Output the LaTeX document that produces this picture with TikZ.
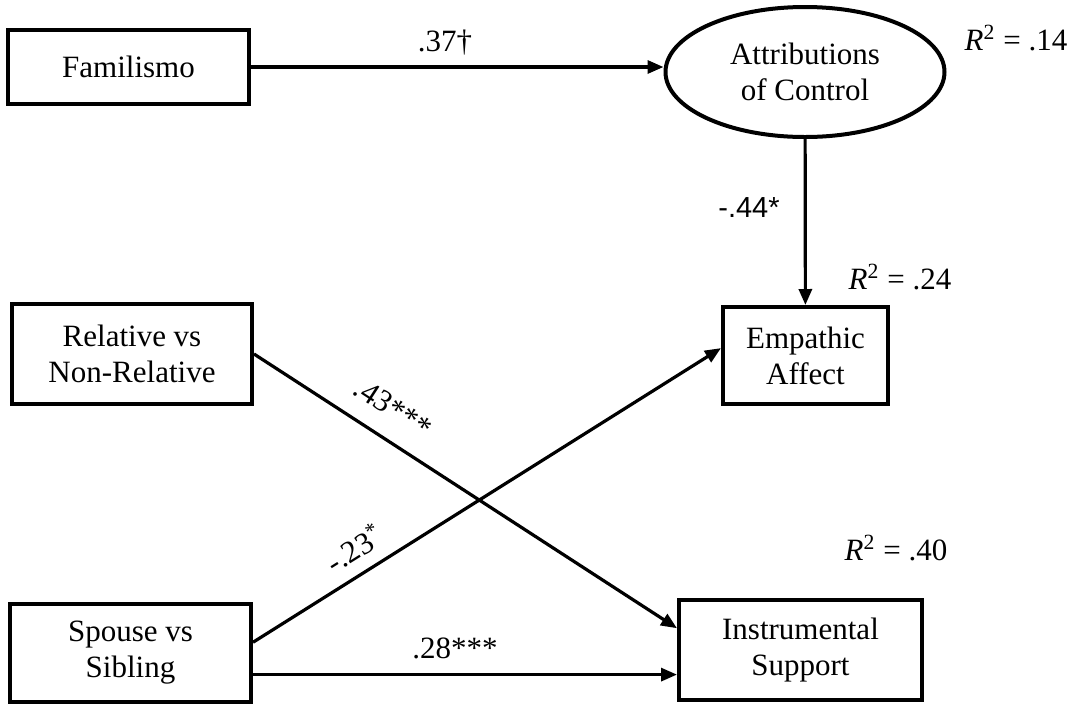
\documentclass[tikz,border=0pt]{standalone}
\usepackage{fontspec}
\setmainfont{Liberation Serif}
\newfontfamily\arialfont{Liberation Sans}
\usetikzlibrary{arrows.meta,positioning,shapes.geometric}

\begin{document}
\begin{tikzpicture}[
  x=0.5pt, y=-0.5pt,
  >={Triangle[length=8pt,width=6.5pt]},
  font=\fontsize{15.5}{18}\selectfont,
  var/.style={rectangle,draw,line width=2pt,inner sep=0pt,align=center},
  latent/.style={ellipse,draw,line width=2pt,inner sep=0pt,align=center,
    minimum width=139.5pt,minimum height=65pt},
  path/.style={->,line width=1.6pt},
  coef/.style={inner sep=1pt},
  rsq/.style={inner sep=1pt},
]
  \useasboundingbox (0,0) rectangle (1078,708);
  % observed and latent variables
  \node[var,minimum width=120.5pt,minimum height=37pt] (fam) at (128.5,67) {Familismo};
  \node[latent] (attr) at (805,72) {Attributions\\of Control};
  \node[var,minimum width=120pt,minimum height=50pt] (rel) at (132,354) {Relative vs\\Non-Relative};
  \node[var,minimum width=120.5pt,minimum height=49pt] (spo) at (130.5,653) {Spouse vs\\Sibling};
  \node[var,minimum width=82.5pt,minimum height=48.5pt] (emp) at (805.5,355.5) {Empathic\\Affect};
  \node[var,minimum width=121.5pt,minimum height=50pt] (ins) at (800.5,650) {Instrumental\\Support};
  % paths
  \draw[path] (fam.east) -- (fam.east -| attr.west);
  \draw[path] (attr) -- (emp);
  \draw[path] (rel.east) -- (ins.170);
  \draw[path] (spo.5) -- (emp.175);
  \draw[path] (spo.-10) -- (spo.-10 -| ins.west);
  % coefficients
  \node[coef] (c37) at (445,43) {.37†};
  \node[coef,font=\arialfont\fontsize{14.5}{16}\selectfont] (c44) at (749,208) {-.44*};
  \node[coef,rotate=-33] (c43) at (393,408) {.43***};
  \node[coef,rotate=32] (c23) at (354,548) {-.23\textsuperscript{*}};
  \node[coef] (c28) at (455,648) {.28***};
  % explained variance
  \node[rsq] (r14) at (1016,38) {\textit{R}\textsuperscript{2} = .14};
  \node[rsq] (r24) at (900,277) {\textit{R}\textsuperscript{2} = .24};
  \node[rsq] (r40) at (896,548) {\textit{R}\textsuperscript{2} = .40};
\end{tikzpicture}
\end{document}
